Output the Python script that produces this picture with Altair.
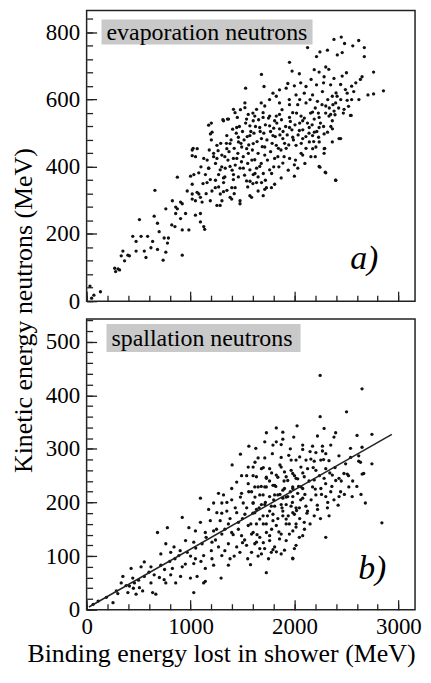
import altair as alt
import pandas as pd

# ---------------- data ----------------
evap_points = [
    (32,45),(48,9),(70,18),(133,28),(270,98),(279,88),(302,96),(317,93),(333,135),(349,149),
    (365,120),(397,137),(412,135),(444,193),(476,178),(476,149),(508,243),(524,193),(555,149),(571,130),
    (587,193),(619,159),(635,178),(650,253),(657,330),(682,232),(682,154),(698,207),(736,122),(746,188),
    (762,146),(762,275),(778,173),(787,188),(819,227),(825,299),(850,222),(857,261),(857,280),(873,275),
    (873,369),(904,246),(904,295),(920,212),(920,137),(920,290),(952,261),(968,328),(984,212),(1000,372),
    (1016,319),(1016,304),(1047,299),(1047,256),(1063,324),(1095,309),(1095,236),(1111,295),(1136,214),(1190,299),
    (1206,328),(1254,285),(1285,285),(1317,326),(1396,304),(1476,299),(1571,314),(1587,309),(1650,328),(1714,333),
    (1016,348),(1032,377),(1048,430),(1064,454),(1016,450),(1095,261),(1080,319),(1127,222),(1143,377),(1159,353),
    (1175,396),(1207,503),(1222,440),(1238,338),(1254,425),(1270,377),(1286,319),(1302,299),(1318,353),(1334,396),
    (1349,454),(1381,309),(1397,338),(1413,377),(1429,338),(1445,425),(1461,474),(1476,290),(1508,396),(1540,454),
    (1556,440),(1572,357),(1603,377),(1635,396),
    (1200,530),(1311,540),(1355,542),(1450,547),(1539,542),(1618,551),(1698,547),(1825,551),(1952,547),(2079,537),
    (2190,542),(2332,551),(2545,553),(1174,524),(1444,517),(1571,522),(1666,517),(1761,522),(1856,513),(1952,517),
    (2047,508),(2142,517),(2237,517),(2364,537),(2285,498),(1349,493),(1460,488),(1571,493),(1682,484),(1793,493),
    (1888,484),(1983,488),(2079,484),(2174,493),(2364,474),(2444,484),(1025,455),(1254,464),(1380,469),(1492,459),
    (1603,469),(1714,459),(1825,464),(1920,455),(2015,464),(2111,455),(2206,459),(2291,455),(1016,433),(1127,425),
    (1222,430),(1301,435),(1412,425),(1507,430),(1618,421),(1714,435),(1809,425),(1888,411),(1999,406),(2079,435),
    (2158,430),(2285,440),(2237,401),(2301,382),(2396,360),(1174,396),(1285,391),(1380,401),(1476,396),(1571,391),
    (1666,401),(1761,391),(1872,367),(1999,372),(1079,382),(1190,362),(1317,367),(1412,362),(1539,358),(1635,353),
    (1730,338),(1809,348),
    (2380,779),(2450,786),(2482,767),(2618,776),(2672,755),(2561,760),(2126,755),(2212,728),(2317,747),(2459,740),
    (2412,733),(2672,728),(1952,711),(2301,697),(2190,689),(2237,682),(2761,682),(1682,675),(1977,685),(2047,677),
    (2285,668),(2380,663),(2459,670),(2650,668),(2634,660),(1530,634),(1707,639),(1936,648),(1999,641),(2111,639),
    (2212,644),(2348,644),(2444,645),(2507,619),(2570,624),(2707,614),(2761,617),(2856,626),(1793,619),(1856,629),
    (1920,634),(1825,610),(2015,614),(2094,619),(2174,614),(2269,624),(2364,610),(1523,590),(1523,576),(1635,571),
    (1714,581),(1856,590),(1952,585),(2031,585),(2111,590),(2221,595),(2301,581),(2396,590),(2507,598),(1428,561),
    (1555,556),(1698,561),(1761,551),(1856,556),(1983,561),(2063,551),(2174,563),(2237,547),(2348,556),(2539,553),
    (1317,537),(1365,542),(1603,537),(1809,537),
    (2429,484),(2397,360),(2296,384),(2245,399),(2232,488),(2286,454),(2175,454),(2318,503),(2365,513),(1191,498),
    (1413,571),(2032,396),(2064,440),(2143,474),(2191,503),(2238,474),(1953,425),(1778,338),(1699,314),(1683,353),
    (2381,566),(2477,571),(2245,742),
    # dense core
    (1240,410),(1265,448),(1290,470),(1330,430),(1345,470),(1370,445),(1390,480),(1405,512),(1420,455),(1440,500),
    (1455,440),(1470,520),(1485,470),(1500,505),(1515,480),(1530,530),(1545,490),(1560,465),(1580,505),(1595,450),
    (1610,500),(1625,520),(1640,475),(1655,540),(1670,505),(1690,460),(1705,500),(1720,525),(1735,480),(1750,545),
    (1770,505),(1785,470),(1800,515),(1815,490),(1830,530),(1845,455),(1860,495),(1875,540),(1890,505),(1905,470),
    (1915,520),(1930,495),(1945,465),(1960,535),(1975,510),(1990,480),(2005,525),(2020,560),(2035,495),(2050,530),
    (2065,470),(2080,510),(2095,545),(2110,490),(2125,530),(2140,500),(2155,560),(2170,525),(2185,475),(2200,575),
    (2215,505),(2230,560),(2250,530),(2265,585),(2280,520),(2300,560),(2320,600),(2335,575),(2350,520),(2370,585),
    (2390,555),(2410,610),(2425,575),(2445,600),(2470,560),(2490,630),(2520,580),(2550,600),(2590,650),(2620,600),
    (1300,400),(1330,370),(1360,420),(1400,390),(1430,405),(1460,370),(1490,415),(1520,375),(1550,410),(1590,420),
    (1620,380),(1650,440),(1680,410),(1700,380),(1740,420),(1770,445),(1800,400),(1840,430),(1870,450),(1900,430),
    (1160,420),(1180,450),(1200,480),(1100,400),(1120,350),(1150,320),(1240,360),(1270,340),(1350,330),(1420,320),
    (1550,340),(1600,350),(1650,370),(1720,360),(1780,380),(1850,400),(1940,390),(2010,420),(2100,410),(2200,430),
    (2150,600),(2050,600),(1950,600),(1880,570),(1760,600),(1680,590),(1600,560),(1480,570),(2280,650),(2400,620),
    (2500,680),(2550,640),(2330,690),(2160,660),(2060,650),
]

spall_points = [
    (2247,437),(2650,412),(2501,369),(2247,360),(2025,343),(1825,339),(1730,330),(1888,331),(2285,338),(2396,330),
    (2602,325),(2745,327),(2221,324),(1993,322),(2380,322),(1714,313),(1825,313),(1888,318),(1561,305),(1628,301),
    (1793,307),(1872,308),(2079,307),(2174,305),(2269,305),(2349,307),(2539,301),(2650,303),(1787,291),(1945,288),
    (2079,299),(2206,293),(2269,296),(2301,291),(2428,287),(2618,287),(1650,283),(1714,283),(1872,284),(1968,279),
    (2015,279),(2111,279),(2190,277),(2253,279),(2332,278),(2618,277),
    (1555,266),(1682,263),(1761,263),(2062,266),(1904,257),(1983,254),(1491,250),(1602,250),(1729,247),(1840,247),
    (1935,241),(2031,244),(1444,238),(1555,235),(1650,229),(1729,229),(1809,232),(1904,226),(1983,229),(2062,229),
    (1396,226),(1317,214),(1269,217),(1491,217),(1587,220),(1666,214),(1761,211),(1840,214),(1935,211),(2031,217),
    (1095,208),(1222,199),(1301,199),(1396,205),(1507,199),(1602,199),(1682,196),(1777,193),(1872,196),(1967,193),
    (2047,190),(1174,187),(1253,181),(1349,184),(1444,181),(1523,178),(1618,181),(1698,175),(1793,178),(1888,175),
    (1999,178),(1095,163),(1190,166),(1285,166),(1364,160),(1460,163),(1555,157),(1634,160),(1729,160),(1825,157),
    (1920,160),(2015,154),(682,144),(777,153),(920,172),(984,153),(1047,147),(1142,144),(1222,147),(1301,141),
    (1396,144),(1491,138),(1587,141),(1666,135),(1761,138),(1856,132),(1951,141),(2047,135),(762,123),(841,117),
    (952,129),(1031,126),(1111,123),(1206,126),(1269,117),(1364,123),(1444,117),(1539,120),(1618,123),(1713,114),
    (1809,117),(1904,111),(1999,114),(555,89),(714,104),(809,107),(888,101),(968,107),(1047,95),(1126,101),
    (1206,95),(1301,101),(1380,95),(1475,107),(1587,107),(1682,104),(1777,107),(1872,104),(1983,96),(428,77),
    (524,80),(619,80),(714,83),(825,77),(920,80),(1031,86),(1142,77),(1222,83),(1364,83),(1577,84),
    (1729,69),(349,62),(444,59),(555,62),(650,65),(746,56),(809,65),(904,62),(999,59),(1063,62),
    (1142,53),(1294,59),(333,50),(412,44),(508,41),(619,50),(762,50),(857,50),(1126,50),(397,32),
    (476,29),(539,35),(635,32),(666,29),(1031,32),(254,13),(63,10),(111,16),(190,23),(286,35),
    (460,50),
    (2540,284),(2158,281),(2745,272),(1602,266),(1872,266),(1968,260),(2126,263),(2206,260),(2301,263),(2364,251),
    (2476,254),(2666,254),(1634,248),(1730,245),(1825,251),(1920,248),(2015,245),(2094,248),(2190,242),(2285,245),
    (2428,245),(1618,229),(1714,229),(1793,232),(1888,223),(1984,226),(2079,226),(2174,229),(2254,226),(2349,220),
    (2444,220),(2523,229),(2555,211),(1698,214),(1809,214),(1888,208),(1984,211),(2079,208),(2206,214),(2301,211),
    (2380,205),(2682,199),(1602,199),(1714,196),(1809,193),(1920,196),(2015,190),(2110,193),(2222,187),(2317,190),
    (1634,187),(1761,184),(1888,184),(1984,181),(2126,184),(2190,175),(2333,175),(2841,162),(1666,169),(1793,166),
    (1920,169),(2015,160),(2094,163),(1602,144),(1730,144),(1872,141),(1984,147),(2079,138),(2301,135),(1634,126),
    (1761,129),(1920,129),(2015,120),(1666,114),(1793,112),
    (2508,253),(2429,211),(2635,275),(2651,253),(1984,95),(2096,150),(1826,108),(2397,241),(2492,272),
    # dense core and lower band
    (1300,180),(1330,150),(1350,200),(1380,170),(1410,140),(1430,190),(1460,150),(1480,210),(1500,170),(1520,130),
    (1540,190),(1560,220),(1580,160),(1600,180),(1620,210),(1640,140),(1660,190),(1680,230),(1700,160),(1720,200),
    (1740,175),(1760,240),(1780,150),(1800,205),(1820,230),(1840,170),(1860,215),(1880,190),(1900,240),(1920,210),
    (1940,175),(1960,220),(1980,200),(2000,250),(2020,185),(2040,230),(2060,205),(2080,255),(2100,215),(2120,180),
    (2140,240),(2160,205),(2180,265),(2200,225),(2220,195),(2240,250),(2260,215),(2280,280),(2300,235),(2320,200),
    (2340,255),(2360,230),(2390,265),(2420,195),(2450,240),(2480,215),(2520,250),(2560,240),(2600,230),(2640,215),
    (1250,150),(1200,110),(1150,135),(1100,90),(1050,115),(1000,100),(950,85),(900,110),(850,95),(800,90),
    (750,75),(700,60),(600,70),(500,55),(450,40),(380,45),(300,30),(1240,130),(1330,110),(1420,100),
    (1500,125),(1550,95),(1650,100),(1700,125),(1750,95),(1850,145),(1950,160),(2050,170),(2150,160),(2250,170),
    (1400,270),(1480,290),(1540,250),(1620,275),(1700,265),(1780,255),(1860,270),(1960,300),(2050,285),(2150,295),
]

fit_x = [22, 2937]
fit_y = [5, 327]

x_major = [0, 1000, 2000, 3000]
x_minor = list(range(0, 3001, 200))
y_top_major = [0, 200, 400, 600, 800]
y_top_minor = list(range(0, 841, 40))
y_bot_major = [0, 100, 200, 300, 400, 500]
y_bot_minor = list(range(0, 541, 20))

panel_labels = ["evaporation neutrons", "spallation neutrons"]
corner_labels = ["a)", "b)"]
x_title = "Binding energy lost in shower (MeV)"
y_title = "Kinetic energy neutrons (MeV)"

X_DOMAIN = [0, 3160]
TOP_DOMAIN = [0, 865]
BOT_DOMAIN = [0, 542]

FONT = "Liberation Serif, Times New Roman, serif"
W = 330
H = 292

evap = pd.DataFrame(evap_points, columns=["x", "y"])
spall = pd.DataFrame(spall_points, columns=["x", "y"])
fit = pd.DataFrame({"x": fit_x, "y": fit_y})


def axis(values, orient, size, labels=False, **kw):
    return alt.Axis(values=values, orient=orient, tickSize=size, offset=-size,
                    labels=labels, domain=False, grid=False, tickColor="#222",
                    tickWidth=1.3, labelFont=FONT, labelFontSize=23, labelColor="black",
                    labelFlush=False, format="d", **kw)


def scatter(df, ydom, xaxis, yaxis, opacity=1.0):
    return alt.Chart(df).mark_circle(size=11, color="#111", opacity=opacity).encode(
        x=alt.X("x:Q", scale=alt.Scale(domain=X_DOMAIN, nice=False, zero=False), axis=xaxis),
        y=alt.Y("y:Q", scale=alt.Scale(domain=ydom, nice=False, zero=False), axis=yaxis),
    )


def label_box(text, x0, x1, y0, y1):
    d = pd.DataFrame({"t": [text]})
    box = alt.Chart(d).mark_rect(color="#c9c9c9").encode(
        x=alt.value(x0), x2=alt.value(x1), y=alt.value(y0), y2=alt.value(y1))
    txt = alt.Chart(d).mark_text(font=FONT, fontSize=24, align="left", baseline="middle",
                                 color="black").encode(
        text="t:N", x=alt.value(x0 + 5), y=alt.value((y0 + y1) / 2 + 1))
    return box + txt


def corner(text, x, y):
    d = pd.DataFrame({"t": [text]})
    return alt.Chart(d).mark_text(font=FONT, fontSize=34, fontStyle="italic",
                                  align="center", baseline="middle", color="black").encode(
        text="t:N", x=alt.value(x), y=alt.value(y))


# ---------------- top panel ----------------
top_major = scatter(
    evap, TOP_DOMAIN,
    axis(x_major, "bottom", 10, title=None),
    axis(y_top_major, "left", 10, labels=True, labelPadding=7,
         title=y_title, titleFont=FONT, titleFontSize=26, titleFontWeight="normal",
         titleColor="black", titleAngle=270, titleAlign="center", titleBaseline="middle",
         titleX=-73, titleY=301),
)
top_minor = scatter(evap, TOP_DOMAIN, axis(x_minor, "bottom", 6, title=None),
                    axis(y_top_minor, "left", 6, title=None), opacity=0)
top = alt.layer(
    top_minor, top_major,
    label_box(panel_labels[0], 15, 227, 9, 34),
    corner(corner_labels[0], 279, 250),
).resolve_axis(x="independent", y="independent").properties(width=W, height=H)

# ---------------- bottom panel ----------------
bot_major = scatter(
    spall, BOT_DOMAIN,
    axis(x_major, "bottom", 10, labels=True, labelPadding=6,
         title=x_title, titleFont=FONT, titleFontSize=26, titleFontWeight="normal",
         titleColor="black", titleAlign="center", titleBaseline="alphabetic",
         titleX=135, titleY=62),
    axis(y_bot_major, "left", 10, labels=True, labelPadding=7, title=None),
)
bot_minor = scatter(spall, BOT_DOMAIN, axis(x_minor, "bottom", 6, title=None),
                    axis(y_bot_minor, "left", 6, title=None), opacity=0)
fit_line = alt.Chart(fit).mark_line(color="#222", strokeWidth=1.5).encode(
    x=alt.X("x:Q", scale=alt.Scale(domain=X_DOMAIN, nice=False, zero=False), axis=None),
    y=alt.Y("y:Q", scale=alt.Scale(domain=BOT_DOMAIN, nice=False, zero=False), axis=None),
)
bottom = alt.layer(
    bot_minor, bot_major, fit_line,
    label_box(panel_labels[1], 20, 215, 5, 33),
    corner(corner_labels[1], 287, 251),
).resolve_axis(x="independent", y="independent").properties(width=W, height=H)

chart = alt.vconcat(top, bottom, spacing=18, bounds="flush").properties(
    padding={"left": 2, "top": 0, "right": 0, "bottom": 0}
).configure_view(stroke="#222", strokeWidth=1.5).configure_axis(grid=False)

chart.save("out.html", embed_options={"renderer": "svg", "actions": False})
